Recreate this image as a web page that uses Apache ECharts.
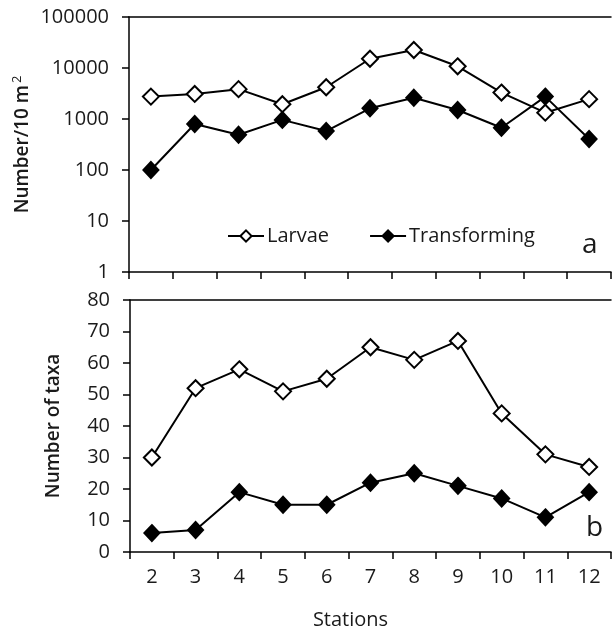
<!DOCTYPE html>
<html><head><meta charset="utf-8">
<script src="https://cdn.jsdelivr.net/npm/echarts@6/dist/echarts.min.js"></script>
<style>html,body{margin:0;padding:0;background:#fff}#c{width:616px;height:632px}</style>
</head><body><div id="c"></div>
<script>
const stations = ['2','3','4','5','6','7','8','9','10','11','12'];
const larvaeDensity = [2750, 3100, 3850, 1950, 4200, 15200, 22500, 10800, 3300, 1330, 2450];
const transformingDensity = [100, 800, 490, 960, 580, 1620, 2620, 1500, 675, 2750, 405];
const larvaeTaxa = [30, 52, 58, 51, 55, 65, 61, 67, 44, 31, 27];
const transformingTaxa = [6, 7, 19, 15, 15, 22, 25, 21, 17, 11, 19];
const seriesNames = ['Larvae', 'Transforming'];
const densityTicks = [1, 10, 100, 1000, 10000, 100000];
const taxaTicks = [0, 10, 20, 30, 40, 50, 60, 70, 80];

const FONT = '"Open Sans"';
const TXT = '#1a1a1a';
const chart = echarts.init(document.getElementById('c'), null, {renderer: 'canvas'});

const lineAx = {show: true, lineStyle: {color: '#000', width: 1.5}};
function catAxis(grid, showLabels, name) {
  return {
    type: 'category', gridIndex: grid, data: stations, boundaryGap: true,
    axisLine: lineAx,
    axisTick: {show: true, inside: false, length: 7, interval: 0, lineStyle: {color: '#000', width: 1.5}},
    axisLabel: {show: showLabels, interval: 0, margin: 15, color: TXT, fontFamily: FONT, fontSize: 20},
    name: name || '', nameLocation: 'middle', nameGap: 58,
    nameTextStyle: {color: TXT, fontFamily: FONT, fontSize: 20, padding: [0, 40, 0, 0]}
  };
}
function topLine(grid) {
  return {type: 'category', gridIndex: grid, position: 'top', data: stations,
    axisLine: lineAx, axisTick: {show: false}, axisLabel: {show: false}};
}
const yLabel = {color: TXT, fontFamily: FONT, fontSize: 20, margin: 20, formatter: v => String(v)};
const yTick = {show: true, inside: false, length: 7, lineStyle: {color: '#000', width: 1.5}};

function mk(name, data, xi, yi, filled) {
  return {
    name: name, type: 'line', xAxisIndex: xi, yAxisIndex: yi, data: data,
    symbol: 'diamond', symbolSize: filled ? [15, 16] : [16, 16],
    lineStyle: {color: '#000', width: 2},
    itemStyle: {color: filled ? '#000' : '#fff', borderColor: '#000', borderWidth: 2},
    emphasis: {disabled: true}, animation: false, z: filled ? 3 : 4
  };
}

chart.setOption({
  animation: false,
  grid: [
    {left: 129, top: 17, width: 482, height: 255},
    {left: 130, top: 300, width: 481, height: 252}
  ],
  xAxis: [catAxis(0, false), catAxis(1, true, 'Stations'), topLine(0), topLine(1)],
  yAxis: [
    {type: 'log', logBase: 10, gridIndex: 0, min: densityTicks[0], max: densityTicks[densityTicks.length - 1],
     axisLine: lineAx, axisTick: yTick, axisLabel: yLabel, splitLine: {show: false},
     name: '{t|Number/10 m}{s|2}', nameLocation: 'middle', nameGap: 95, nameMoveOverlap: false,
     nameTextStyle: {rich: {
       t: {color: TXT, fontFamily: FONT, fontSize: 19, fontWeight: 600},
       s: {color: TXT, fontFamily: FONT, fontSize: 13, verticalAlign: 'top', padding: [0, 0, 10, 2]}}}},
    {type: 'value', gridIndex: 1, min: taxaTicks[0], max: taxaTicks[taxaTicks.length - 1], interval: 10,
     axisLine: lineAx, axisTick: yTick, axisLabel: yLabel, splitLine: {show: false},
     name: 'Number of taxa', nameLocation: 'middle', nameGap: 67, nameMoveOverlap: false,
     nameTextStyle: {color: TXT, fontFamily: FONT, fontSize: 19, fontWeight: 600}}
  ],
  legend: {
    data: seriesNames, left: 222, top: 221, itemGap: 40, itemWidth: 36, itemHeight: 14,
    textStyle: {color: TXT, fontFamily: FONT, fontSize: 20, padding: [0, 0, 0, -2]}
  },
  series: [
    mk(seriesNames[0], larvaeDensity, 0, 0, false),
    mk(seriesNames[1], transformingDensity, 0, 0, true),
    mk(seriesNames[0], larvaeTaxa, 1, 1, false),
    mk(seriesNames[1], transformingTaxa, 1, 1, true)
  ],
  graphic: [
    {type: 'text', left: 582, top: 231, style: {text: 'a', fill: TXT, font: '28px "Open Sans"'}},
    {type: 'text', left: 586, top: 514, style: {text: 'b', fill: TXT, font: '28px "Open Sans"'}}
  ]
});
</script></body></html>
